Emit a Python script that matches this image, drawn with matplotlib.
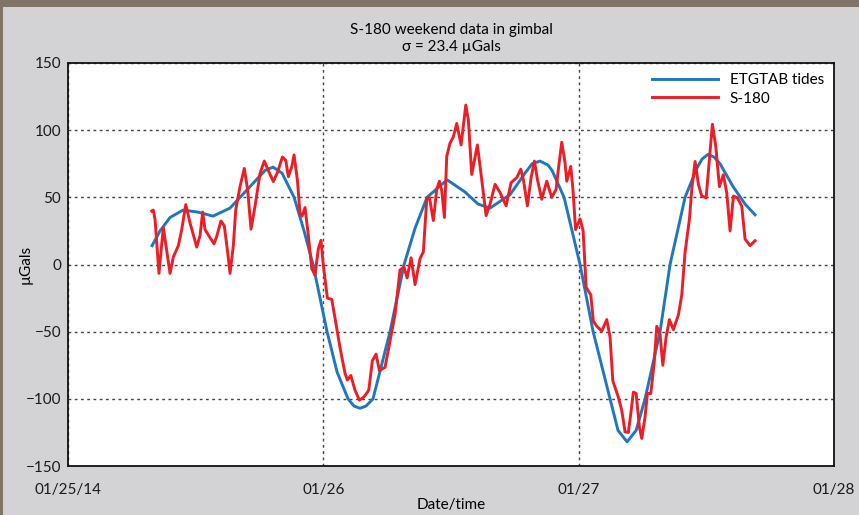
import matplotlib
matplotlib.use("Agg")
import matplotlib.pyplot as plt
from matplotlib.patches import Rectangle

plt.rcParams['font.family'] = ['Lato', 'DejaVu Sans']

# hours since 2014-01-25 00:00
tide_hours = [7.90, 8.65, 9.59, 10.81, 12.22, 13.63, 15.23, 17.11, 18.52, 19.27,
              20.12, 21.25, 22.19, 23.03, 24.35, 25.29, 26.32, 26.89, 27.45, 28.01,
              28.67, 30.27, 31.59, 32.62, 33.75, 35.63, 37.32, 38.54, 39.67, 41.55,
              42.96, 43.62, 44.37, 45.12, 45.50, 46.63, 48.13, 49.36, 50.95, 51.70,
              52.55, 53.40, 54.24, 55.65, 56.59, 58.00, 59.13, 59.60, 60.16, 60.72,
              61.29, 62.51, 63.64, 64.58]
tide_values = [14, 25, 35, 40.5, 39, 36, 42, 58, 70, 72.5,
               68, 50, 25, 0, -50, -80, -100, -105.4, -107, -105.4,
               -100, -50, 0, 27, 50, 63, 54, 45, 42, 52,
               68, 75, 77, 74, 70, 50, 0, -50, -100, -123.5,
               -132, -123.5, -100, -50, 0, 50, 72, 78.5, 82, 80,
               75, 58, 45, 37]

s180_hours = [7.87, 8.02, 8.18, 8.55, 8.96, 9.12, 9.59, 9.90, 10.37, 10.69,
              11.07, 11.47, 12.10, 12.41, 12.66, 12.88, 13.35, 13.73, 13.98, 14.38,
              14.69, 15.01, 15.23, 15.54, 15.77, 16.17, 16.57, 16.89, 17.20, 17.58,
              18.05, 18.45, 18.83, 19.30, 19.71, 20.15, 20.47, 20.71, 21.03, 21.25,
              21.56, 21.81, 22.00, 22.28, 22.59, 22.91, 23.22, 23.53, 23.78, 24.00,
              24.38, 24.79, 25.10, 25.57, 26.04, 26.26, 26.58, 26.98, 27.39, 27.83,
              28.27, 28.61, 28.96, 29.27, 29.80, 30.27, 30.74, 31.21, 31.59, 31.87,
              32.25, 32.62, 33.09, 33.40, 33.72, 33.97, 34.34, 34.66, 34.91, 35.13,
              35.38, 35.60, 35.91, 36.22, 36.54, 36.95, 37.39, 37.63, 37.95, 38.48,
              38.83, 39.30, 39.67, 40.14, 40.61, 41.18, 41.65, 42.18, 42.56, 42.80,
              43.18, 43.53, 43.84, 44.12, 44.53, 45.00, 45.47, 45.88, 46.09, 46.41,
              46.72, 46.88, 47.26, 47.47, 47.71, 48.13, 48.42, 48.70, 49.14, 49.38,
              49.70, 50.17, 50.64, 50.95, 51.21, 51.73, 52.05, 52.36, 52.67, 52.90,
              53.14, 53.40, 53.71, 53.93, 54.24, 54.46, 54.78, 55.09, 55.34, 55.65,
              55.91, 56.22, 56.53, 56.90, 57.37, 57.69, 58.00, 58.41, 58.63, 58.94,
              59.26, 59.57, 59.98, 60.29, 60.57, 60.89, 61.23, 61.60, 61.92, 62.23,
              62.55, 62.92, 63.33, 63.64, 64.11, 64.58]
s180_values = [39.8, 40.5, 33.7, -6.6, 27.6, 19, -6.6, 5.6, 14, 26,
               44.6, 31, 13, 21.5, 39, 26, 20, 15.4, 21, 32.4,
               28.8, 9, -6.6, 14, 41, 58, 71.5, 55.6, 26.3, 43.4,
               67.8, 77, 70, 61.7, 69, 80, 77.5, 65.4, 72.7, 81.6,
               63, 37.5, 36, 42.4, 21.6, -3, -8, 11.8, 18, -0.5,
               -25, -26, -40, -62, -81, -86, -82.6, -93.6, -101, -98.5,
               -93.6, -71.6, -66.7, -79, -76.5, -57, -37, -4, -2, -10,
               5, -15, 4.4, 9.3, 48.6, 50, 32.7, 56, 62, 55,
               35, 80.6, 90.4, 95, 105, 89, 118.7, 107.6, 67, 89,
               67, 36.4, 45, 59.7, 53.6, 43.7, 61, 64.6, 71, 63.4,
               43.7, 64.6, 77, 63.4, 48.6, 62, 49.9, 56, 70.8, 91,
               75.7, 62, 73, 55, 26, 34, 25, -17, -22.6, -42,
               -46, -49.6, -41, -54, -86.5, -98.8, -108.6, -124.6, -125, -111,
               -95, -96, -121, -129.5, -113.5, -96, -96, -74, -46, -52,
               -75, -54, -41, -48.5, -37.6, -22.8, 9, 33.7, 55.8, 76.7,
               59.5, 51, 49.6, 78, 104.4, 87.7, 58, 66.8, 53.3, 25,
               51, 49.6, 43.5, 19, 14, 17.7]

x_ticks = [0, 24, 48, 72]
x_tick_labels = ['01/25/14', '01/26', '01/27', '01/28']
y_ticks = [-150, -100, -50, 0, 50, 100, 150]

fig = plt.figure(figsize=(8.59, 5.15), dpi=100, facecolor='#d3d3d5')
# frame strips of the original screenshot
fig.patches.append(Rectangle((0, 1 - 6.5 / 515), 1, 6.5 / 515, transform=fig.transFigure,
                             facecolor='#807468', edgecolor='none', zorder=0))
fig.patches.append(Rectangle((0, 0), 3.5 / 859, 1, transform=fig.transFigure,
                             facecolor='#807468', edgecolor='none', zorder=0))

ax = fig.add_axes([68 / 859, 1 - 466 / 515, (834 - 68) / 859, (466 - 63) / 515])
ax.set_facecolor('white')

ax.plot(tide_hours, tide_values, color='#1f77bf', lw=2.1, label='ETGTAB tides', zorder=3,
        solid_joinstyle='round')
ax.plot(s180_hours, s180_values, color='#ee1d25', lw=2.1, label='S-180', zorder=4,
        solid_joinstyle='round')

ax.set_xlim(0, 72)
ax.set_ylim(-150, 150)
ax.set_xticks(x_ticks)
ax.set_xticklabels(x_tick_labels)
ax.set_yticks(y_ticks)
ax.tick_params(axis='both', length=0, labelsize=11, colors='#1a1a1a')
ax.tick_params(axis='x', pad=12)
ax.tick_params(axis='y', pad=5)

ax.grid(True, color='#444444', linestyle=(0, (2, 2.5)), linewidth=1.0, zorder=1)
ax.set_axisbelow(True)
for sp in ax.spines.values():
    sp.set_color('#111111')
    sp.set_linewidth(1.3)

ax.set_xlabel('Date/time', fontsize=11, labelpad=1)
ax.set_ylabel('µGals', fontsize=11)
ax.yaxis.set_label_coords(-0.046, 0.5)
ax.set_title('S-180 weekend data in gimbal\nσ = 23.4 µGals', fontsize=11, pad=9,
             linespacing=1.25)

leg = ax.legend(loc='upper right', frameon=False, fontsize=11, handlelength=4.3,
                handletextpad=0.8, labelspacing=0.3, borderaxespad=0.25)

fig.savefig('out.png', dpi=100, facecolor=fig.get_facecolor())
